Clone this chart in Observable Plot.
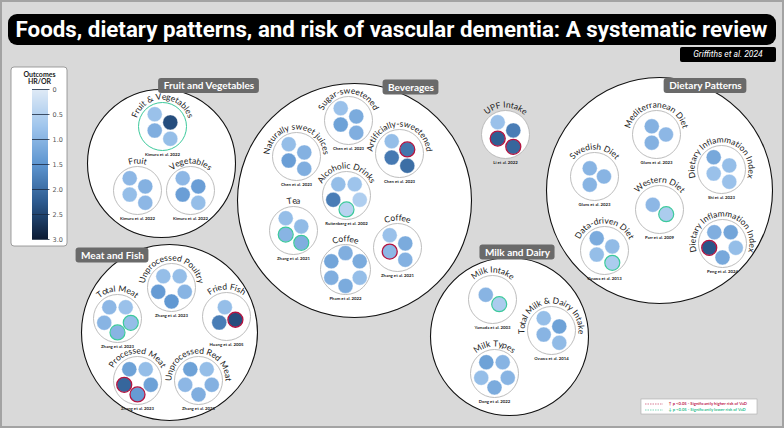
<!DOCTYPE html>
<html><head><meta charset="utf-8">
<script src="https://cdn.jsdelivr.net/npm/d3@7"></script>
<script src="https://cdn.jsdelivr.net/npm/@observablehq/plot@0.6"></script>
<style>
html,body{margin:0;padding:0;background:#d9d9d9;}
#chart{position:relative;width:784px;height:428px;background:#d9d9d9;box-shadow:inset 0 0 0 2px #a3a3a3;overflow:hidden}
#chart svg{position:absolute;left:0;top:0}
.tbox{position:absolute;background:#000;color:#fff;text-align:center;white-space:nowrap;font-family:Roboto,sans-serif;overflow:hidden}
.tbox span{display:inline-block;transform-origin:center center}
</style></head><body><div id="chart"></div>
<script>
// ---------------- DATA ----------------
const title = "Foods, dietary patterns, and risk of vascular dementia: A systematic review";
const subtitle = "Griffiths et al. 2024";
const categories = ["Fruit and Vegetables", "Beverages", "Dietary Patterns", "Meat and Fish", "Milk and Dairy"];
const studyNames = [
  "Fruit & Vegetables", "Fruit", "Vegetables",
  "Sugar-sweetened", "Naturally sweet juices", "Artificially-sweetened", "Alcoholic Drinks", "Tea", "Coffee", "Coffee",
  "UPF Intake",
  "Mediterranean Diet", "Swedish Diet", "Dietary Inflammation Index", "Western Diet", "Data-driven Diet", "Dietary Inflammation Index",
  "Total Meat", "Unprocessed Poultry", "Fried Fish", "Processed Meat", "Unprocessed Red Meat",
  "Milk Intake", "Total Milk & Dairy Intake", "Milk Types"
];
const studyCategory = [0,0,0, 1,1,1,1,1,1,1, -1, 2,2,2,2,2,2, 3,3,3,3,3, 4,4,4];
const studyCitations = [
  "Kimura et al. 2022", "Kimura et al. 2022", "Kimura et al. 2022",
  "Chen et al. 2023", "Chen et al. 2023", "Chen et al. 2023", "Ruitenberg et al. 2002", "Zhang et al. 2021", "Pham et al. 2022", "Zhang et al. 2021",
  "Li et al. 2022",
  "Glans et al. 2023", "Glans et al. 2023", "Shi et al. 2023", "Parr et al. 2009", "Ozawa et al. 2013", "Peng et al. 2024",
  "Zhang et al. 2023", "Zhang et al. 2023", "Huang et al. 2005", "Zhang et al. 2023", "Zhang et al. 2023",
  "Yamada et al. 2003", "Ozawa et al. 2014", "Dong et al. 2022"
];
// study-level significance: 1 higher risk, -1 lower risk, 0 none
const studySignificance = [-1,0,0, 0,0,0,0,0,0,0, 0, 0,0,0,0,0,0, 0,0,0,0,0, 0,0,0];
// HR/OR per outcome of each study
const outcomeValues = [
  [0.8, 2.4, 1.1, 0.85],
  [0.95, 1.05, 0.85, 0.95],
  [0.95, 1.35, 1.35, 0.85],
  [0.8, 1.15, 1.3, 1.1],
  [0.85, 1.05, 1.35, 1.1],
  [0.85, 1.9, 1.85, 2.0],
  [0.85, 0.75, 0.55, 0.45, 1.8],
  [0.85, 0.9, 1.0, 1.1],
  [1.25, 1.1, 1.15, 0.85, 1.15, 1.1],
  [0.8, 1.15, 0.95, 1.05],
  [0.8, 1.8, 2.2, 2.1],
  [1.05, 0.95, 1.05],
  [1.0, 1.0, 1.0],
  [1.2, 0.85, 0.8, 0.8],
  [0.95, 0.6],
  [1.15, 0.9, 0.85, 0.6],
  [1.1, 1.25, 0.85, 1.2, 2.3],
  [0.95, 0.8, 0.85, 1.0, 1.0],
  [0.85, 0.85, 1.0, 1.45, 1.4],
  [0.85, 2.4, 1.8],
  [1.3, 0.85, 1.3, 1.4, 2.1],
  [1.3, 0.85, 1.05, 1.1, 0.95],
  [1.0, 0.6],
  [0.85, 1.3, 1.0, 0.9],
  [1.3, 1.0, 1.0, 1.15, 0.85]
];
// outcome-level significance: 1 higher risk (p<0.05), -1 lower risk (p<0.05)
const outcomeSignificance = [
  [0,0,0,0],[0,0,0,0],[0,0,0,0],
  [0,0,0,0],[0,0,0,0],[0,1,0,0],[0,0,0,-1,0],[0,0,-1,-1],[0,0,0,0,0,0],[0,0,1,0],
  [0,0,1,1],
  [0,0,0],[0,0,0],[0,0,0,0],[0,-1],[0,0,0,-1],[0,0,0,0,1],
  [0,0,-1,-1,0],[0,0,0,0,0],[0,1,0],[0,0,0,1,1],[0,0,0,0,0],
  [0,-1],[0,0,0,0],[0,0,0,0,0]
];
const legendTitle = ["Outcomes", "HR/OR"];
const legendTicks = [0, 0.5, 1.0, 1.5, 2.0, 2.5, 3.0];
const legendTickLabels = ["0", "0.5", "1.0", "1.5", "2.0", "2.5", "3.0"];
const sigLegendLabels = ["↑ p <0.05 - Significantly higher risk of VaD", "↓ p <0.05 - Significantly lower risk of VaD"];

// ---------------- LAYOUT (positions / sizes, kept apart from data) ----------------
const categoryLayout = [
  {cx: 161, cy: 163, r: 74, lx: 208.5, ly: 85.5},
  {cx: 354, cy: 200, r: 117, lx: 410.5, ly: 87},
  {cx: 659, cy: 190, r: 113, lx: 705, ly: 85.5},
  {cx: 169, cy: 332, r: 88, lx: 112, ly: 255},
  {cx: 509, cy: 336, r: 79, lx: 517, ly: 252}
];
// [cx, cy, radius, rotation of inner arrangement]
const studyLayout = [
  [162, 126, 24, 0], [137, 190, 24, 0], [190, 190, 24, 0],
  [348, 120, 24, 0], [296, 156, 24, 0], [399, 153, 24, 0], [346, 195, 24, 0], [293, 230, 24, 0], [345, 269, 25, 0], [397, 247, 24, 0],
  [505, 134, 24, 0],
  [656, 134, 24, 0], [594, 176, 24, 0], [721, 169, 24, 0], [659, 209, 24, 0], [604, 250, 24, 0], [722, 243, 24, 0],
  [117, 318, 24, 0], [171, 287, 24, 0], [226, 316, 24, 20], [137, 380, 24, 0], [198, 380, 24, 0],
  [492, 299, 24, 0], [551, 330, 24, 0], [494, 373, 24, 0]
];
const RHO = 8.2, DOT_R = 7.5;
const legendBox = {x1: 11, x2: 67, y1: 67, y2: 246, barX1: 32, barX2: 48, barY0: 89, barY1: 239};
const sigBox = {x1: 641, x2: 757, y1: 399, y2: 414};

// ---------------- HELPERS ----------------
const ctx = document.createElement("canvas").getContext("2d");
function measure(text, font) { ctx.font = font; return ctx.measureText(text).width; }
function arcText(text, cx, cy, R, font) {
  const total = measure(text, font), span = total / R;
  const out = []; let acc = "";
  for (const ch of text) {
    const start = measure(acc, font); acc += ch;
    const w = measure(ch, font);
    const a = -Math.PI / 2 - span / 2 + (start + w / 2) / R;
    out.push({ch, x: cx + R * Math.cos(a), y: cy + R * Math.sin(a), rotate: a * 180 / Math.PI + 90});
  }
  return out;
}
function outcomeOffsets(n, rot) {
  if (n === 4) return [[-0.95, -1.5], [0.95, -0.5], [-0.95, 0.5], [0.95, 1.5]].map(([a, b]) => [a * RHO, b * RHO]);
  const start = ({1: 0, 2: -145, 3: -120, 5: -126, 6: -150})[n] + rot;
  const R = n === 1 ? 0 : RHO / Math.sin(Math.PI / n);
  return d3.range(n).map(i => { const a = (start + 360 * i / n) * Math.PI / 180; return [R * Math.cos(a), R * Math.sin(a)]; });
}

// ---------------- BUILD ROWS ----------------
const catFont = "bold 10px Lato";
const catRows = categories.map((name, i) => {
  const L = categoryLayout[i], w = measure(name, catFont) + 10;
  return {name, x: L.cx, y: L.cy, r: L.r, lx: L.lx, ly: L.ly, lx1: L.lx - w / 2, lx2: L.lx + w / 2, ly1: L.ly - 7.5, ly2: L.ly + 7.5};
});
const studyRows = studyNames.map((name, i) => ({
  name, category: studyCategory[i], citation: studyCitations[i], sig: studySignificance[i],
  x: studyLayout[i][0], y: studyLayout[i][1], r: studyLayout[i][2]
}));
const outcomeRows = [];
studyRows.forEach((s, i) => {
  const offs = outcomeOffsets(outcomeValues[i].length, studyLayout[i][3]);
  outcomeValues[i].forEach((v, j) => outcomeRows.push({value: v, sig: outcomeSignificance[i][j], x: s.x + offs[j][0], y: s.y + offs[j][1]}));
});
const titleFont = "8.5px Lato";
const titleChars = studyRows.flatMap(s => arcText(s.name, s.x, s.y, s.r + 3, titleFont));
const legendScaleY = d3.scaleLinear().domain([0, 3]).range([legendBox.barY0, legendBox.barY1]);
const rampSlices = d3.range(0, 3, 0.02).map(v => ({v, y1: legendScaleY(v), y2: legendScaleY(Math.min(3, v + 0.025))}));

// ---------------- PLOT ----------------
const plot = Plot.plot({
  width: 784, height: 428, margin: 0,
  style: {background: "transparent", overflow: "visible"},
  x: {domain: [0, 784], range: [0, 784], axis: null},
  y: {domain: [0, 428], range: [0, 428], axis: null},
  r: {type: "identity"},
  color: {type: "linear", domain: [0, 0.75, 1.5, 2.25, 3], range: ["#dfeaf6", "#9ec4ec", "#5d95d0", "#2c5a8f", "#0b1a33"]},
  marks: [
    Plot.dot(catRows, {x: "x", y: "y", r: "r", fill: "white", stroke: "#111", strokeWidth: 1.1}),
    Plot.dot(studyRows.filter(d => d.sig === 0), {x: "x", y: "y", r: "r", fill: "white", stroke: "#b5b5b5", strokeWidth: 0.9}),
    Plot.dot(studyRows.filter(d => d.sig < 0), {x: "x", y: "y", r: "r", fill: "white", stroke: "#3cc99c", strokeWidth: 1}),
    Plot.dot(studyRows.filter(d => d.sig > 0), {x: "x", y: "y", r: "r", fill: "white", stroke: "#b3123f", strokeWidth: 1}),
    Plot.dot(outcomeRows, {x: "x", y: "y", r: DOT_R, fill: "value", stroke: "white", strokeWidth: 0.4}),
    Plot.dot(outcomeRows.filter(d => d.sig > 0), {x: "x", y: "y", r: DOT_R, fill: "none", stroke: "#b3123f", strokeWidth: 1.3}),
    Plot.dot(outcomeRows.filter(d => d.sig < 0), {x: "x", y: "y", r: DOT_R, fill: "none", stroke: "#3cc99c", strokeWidth: 1.2}),
    Plot.text(titleChars, {x: "x", y: "y", text: "ch", rotate: "rotate", fontSize: 8.5, fontFamily: "Lato", lineAnchor: "bottom", fill: "#1a1a1a"}),
    Plot.text(studyRows, {x: "x", y: d => d.y + d.r + 4.5, text: "citation", fontSize: 4.3, fontWeight: "bold", fontFamily: "Lato", fill: "#222"}),
    Plot.rect(catRows, {x1: "lx1", x2: "lx2", y1: "ly1", y2: "ly2", rx: 3, fill: "#6a6a6a"}),
    Plot.text(catRows, {x: "lx", y: "ly", text: "name", fill: "white", fontSize: 10, fontWeight: "bold", fontFamily: "Lato"}),
    Plot.rect([legendBox], {x1: "x1", x2: "x2", y1: "y1", y2: "y2", rx: 3, fill: "white", stroke: "#888", strokeWidth: 0.8}),
    Plot.rect(rampSlices, {x1: legendBox.barX1, x2: legendBox.barX2, y1: "y1", y2: "y2", fill: "v"}),
    Plot.ruleY(legendTicks, {y: d => legendScaleY(d), x1: legendBox.barX1, x2: legendBox.barX2 + 1.5, stroke: "#1a2a40", strokeWidth: 0.8}),
    Plot.text(legendTicks, {x: legendBox.barX2 + 4, y: d => legendScaleY(d), text: (d, i) => legendTickLabels[i], textAnchor: "start", fontSize: 6.5, fontFamily: "DejaVu Sans", fill: "#555"}),
    Plot.text(legendTitle, {x: (legendBox.x1 + legendBox.x2) / 2, y: (d, i) => legendBox.y1 + 7 + i * 7.5, text: d => d, fontSize: 7, fontWeight: "bold", fontFamily: "Lato", fill: "#222"}),
    Plot.rect([sigBox], {x1: "x1", x2: "x2", y1: "y1", y2: "y2", fill: "white", stroke: "#aaa", strokeWidth: 0.6}),
    Plot.ruleY([sigLegendLabels[0]], {y: sigBox.y1 + 4.5, x1: sigBox.x1 + 4, x2: sigBox.x1 + 22, stroke: "#c0264f", strokeWidth: 0.6, strokeDasharray: "1.5,1"}),
    Plot.ruleY([sigLegendLabels[1]], {y: sigBox.y1 + 10.5, x1: sigBox.x1 + 4, x2: sigBox.x1 + 22, stroke: "#2fbf8f", strokeWidth: 0.6, strokeDasharray: "1.5,1"}),
    Plot.text([sigLegendLabels[0]], {x: sigBox.x1 + 27, y: sigBox.y1 + 4.5, text: d => d, textAnchor: "start", fontSize: 4.2, fontWeight: "bold", fontFamily: "Lato", fill: "#c0264f"}),
    Plot.text([sigLegendLabels[1]], {x: sigBox.x1 + 27, y: sigBox.y1 + 10.5, text: d => d, textAnchor: "start", fontSize: 4.2, fontWeight: "bold", fontFamily: "Lato", fill: "#2fbf8f"})
  ]
});
const chart = document.getElementById("chart");
chart.appendChild(plot);

// title boxes (HTML, above the svg)
const tw = measure(title, "bold 22px Roboto");
const t = document.createElement("div");
t.className = "tbox";
Object.assign(t.style, {left: "8px", top: "14px", width: "768px", height: "31px", lineHeight: "31px", borderRadius: "9px", fontSize: "22px", fontWeight: "bold"});
const tspan = document.createElement("span");
tspan.textContent = title;
tspan.style.transform = `scaleX(${752 / tw})`;
t.appendChild(tspan);
chart.appendChild(t);
const s = document.createElement("div");
s.className = "tbox";
Object.assign(s.style, {left: "680px", top: "47px", width: "96px", height: "15px", lineHeight: "15px", borderRadius: "2px", fontSize: "8.5px", fontStyle: "italic"});
s.textContent = subtitle;
chart.appendChild(s);
</script></body></html>
